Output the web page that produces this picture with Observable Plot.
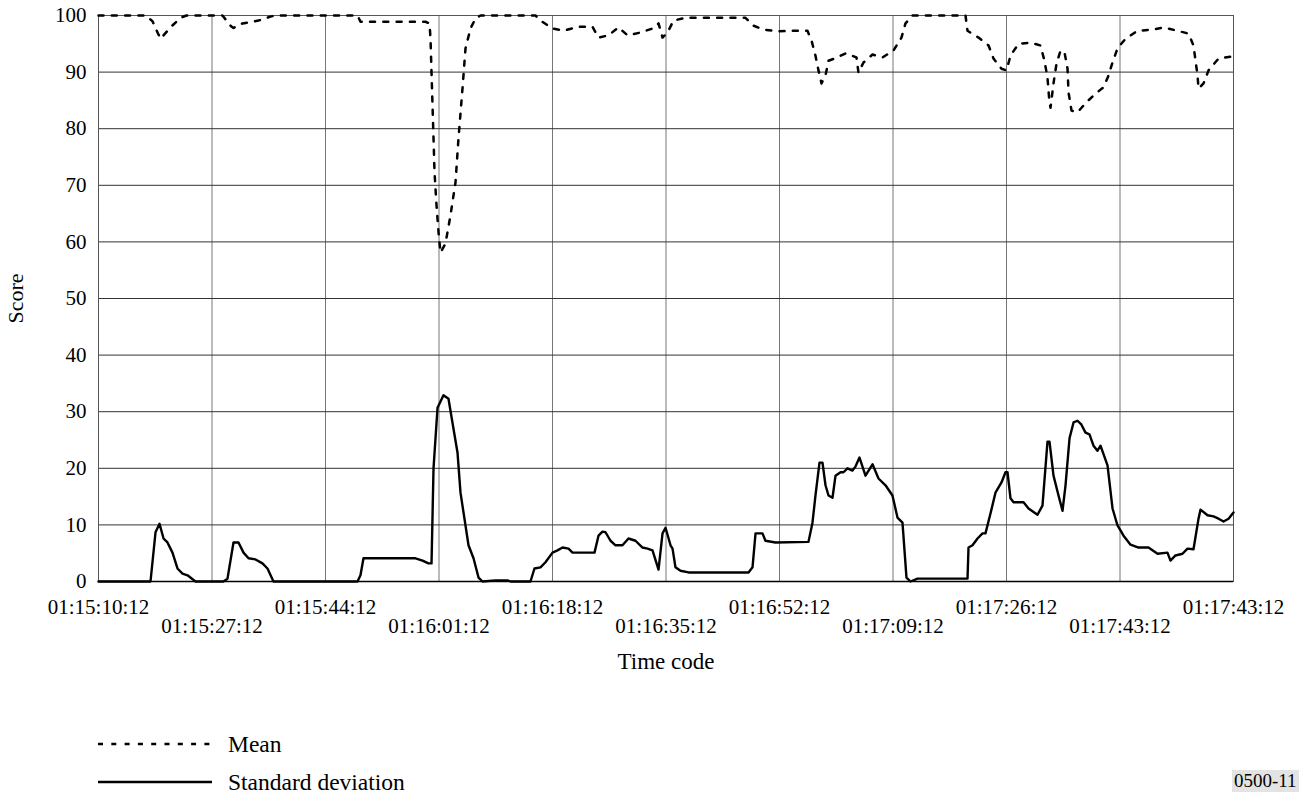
<!DOCTYPE html>
<html>
<head>
<meta charset="utf-8">
<script src="https://cdn.jsdelivr.net/npm/d3@7"></script>
<script src="https://cdn.jsdelivr.net/npm/@observablehq/plot@0.6"></script>
<style>
  body { margin: 0; background: #fff; font-family: "Liberation Serif", "Times New Roman", serif; }
  #wrap { position: relative; width: 1300px; height: 802px; }
  .leg { position: absolute; left: 98px; display: flex; align-items: center; font-size: 23.5px; color: #000; white-space: nowrap; }
  .leg svg { margin-right: 16px; }
  #code { position: absolute; left: 1232px; top: 770px; font-size: 19px; background: #e3e3e3; padding: 0 2px; line-height: 22px; white-space: nowrap; }
</style>
</head>
<body>
<div id="wrap">
  <div id="chart"></div>
  <div class="leg" style="top:731px;height:26px;">
    <svg width="114" height="26"><line x1="0" x2="114" y1="13" y2="13" stroke="#000" stroke-width="2.5" stroke-dasharray="5,8.3"></line></svg>
    <span>Mean</span>
  </div>
  <div class="leg" style="top:769px;height:26px;">
    <svg width="114" height="26"><line x1="0" x2="114" y1="13" y2="13" stroke="#000" stroke-width="2.5"></line></svg>
    <span>Standard deviation</span>
  </div>
  <div id="code">0500-11</div>
</div>
<script>
// seconds since 01:15:10:12
const tickSeconds = [0, 17, 34, 51, 68, 85, 102, 119, 136, 153, 170];
const tickLabels = ["01:15:10:12", "01:15:27:12", "01:15:44:12", "01:16:01:12", "01:16:18:12",
  "01:16:35:12", "01:16:52:12", "01:17:09:12", "01:17:26:12", "01:17:43:12", "01:17:43:12"];
const yTicks = [0, 10, 20, 30, 40, 50, 60, 70, 80, 90, 100];

const meanTime = [0, 7.04, 8.09, 8.84, 9.29, 10.78, 12.28, 13.18, 18.57, 19.77, 20.22, 21.57, 23.96, 25.76, 26.51,
  38.79, 39.24, 48.98, 49.58, 49.73, 49.88, 50.03, 50.18, 50.33, 50.63, 50.93, 51.22, 51.97, 52.72, 53.47, 53.92,
  54.52, 54.97, 55.72, 56.47, 57.22, 65.45, 66.20, 68.00, 69.65, 71.75, 73.99, 74.89, 76.39, 77.89, 79.23, 81.18,
  82.98, 83.88, 84.48, 85.23, 86.12, 87.92, 96.91, 98.11, 99.60, 101.85, 103.95, 106.19, 106.79, 107.39, 107.84,
  108.29, 108.89, 109.34, 110.24, 111.88, 113.53, 113.83, 114.58, 115.93, 117.43, 119.07, 120.27, 120.87, 121.92,
  129.86, 130.16, 131.81, 133.31, 134.05, 135.25, 136.00, 136.60, 137.80, 139.59, 141.09, 141.69, 142.14, 142.44,
  142.59, 143.04, 143.49, 144.09, 144.69, 145.14, 145.29, 145.74, 146.64, 147.83, 149.33, 150.53, 151.28, 151.88,
  152.63, 153.83, 155.62, 157.87, 159.52, 161.61, 163.26, 164.01, 164.61, 164.76, 165.51, 166.26, 167.76, 170.00];
const meanValue = [100, 100, 99.0, 97.0, 95.9, 97.9, 99.6, 100, 100, 98.2, 97.8, 98.6, 99.1, 99.8, 100,
  100, 98.9, 98.9, 98.6, 95.9, 89.9, 84.1, 78.3, 72.3, 66.4, 61.7, 58.1, 59.7, 64.7, 70.5, 78.3,
  87.1, 94.2, 97.7, 99.5, 100, 100, 99.1, 97.7, 97.3, 98.0, 98.0, 96.1, 96.5, 97.9, 96.5, 97.0,
  97.7, 98.6, 96.1, 97.0, 99.1, 99.6, 99.6, 98.2, 97.5, 97.2, 97.3, 97.3, 95.6, 92.9, 90.3,
  88.0, 89.4, 92.0, 92.4, 93.3, 92.6, 89.9, 91.7, 93.1, 92.6, 93.8, 96.1, 98.6, 100,
  100, 97.3, 96.1, 94.7, 92.4, 90.6, 90.3, 92.9, 95.0, 95.2, 94.7, 92.0, 89.0, 84.6,
  83.7, 88.0, 91.5, 93.8, 93.5, 90.6, 86.4, 83.2, 82.9, 84.5, 86.2, 87.3, 89.4, 91.7,
  94.2, 95.9, 97.3, 97.5, 97.9, 97.3, 96.8, 94.7, 89.4, 87.1, 88.0, 90.3, 92.4, 92.8];

const sdTime = [0, 7.79, 8.54, 9.14, 9.74, 10.33, 11.08, 11.83, 12.58, 13.33, 14.53, 18.72, 19.32, 20.22, 20.97,
  21.72, 22.47, 23.52, 24.56, 25.31, 26.21, 38.79, 39.24, 39.69, 47.48, 48.53, 49.43, 49.88, 50.18, 50.78, 51.67,
  52.42, 53.17, 53.77, 54.22, 55.42, 56.17, 56.92, 57.52, 59.46, 61.26, 61.71, 64.70, 65.30, 66.20, 66.95, 68.00,
  68.75, 69.50, 70.40, 71.00, 72.49, 74.29, 74.89, 75.49, 75.94, 76.69, 77.44, 78.48, 79.38, 80.43, 81.48, 82.23,
  82.98, 83.88, 84.48, 84.93, 85.68, 85.98, 86.42, 87.17, 88.37, 97.36, 97.96, 98.41, 99.45, 99.90, 101.40, 106.34,
  106.94, 107.39, 107.99, 108.44, 108.89, 109.34, 109.94, 110.39, 111.14, 111.58, 112.18, 112.93, 113.38, 113.98,
  114.88, 115.93, 116.83, 117.88, 118.92, 119.67, 120.42, 121.02, 121.62, 122.67, 126.41, 130.16, 130.31, 130.91,
  131.66, 132.41, 132.85, 133.60, 134.35, 135.25, 135.85, 136.15, 136.60, 137.05, 138.55, 139.30, 140.64, 141.39,
  142.14, 142.44, 143.04, 143.79, 144.39, 144.84, 145.44, 146.04, 146.64, 147.23, 147.83, 148.43, 149.03, 149.63,
  150.08, 151.13, 151.88, 152.63, 153.53, 154.58, 155.77, 157.27, 158.62, 160.11, 160.56, 161.31, 162.36, 163.11,
  164.01, 164.76, 165.06, 166.11, 167.01, 167.76, 168.51, 169.26, 170.00];
const sdValue = [0, 0, 8.7, 10.2, 7.6, 6.9, 5.1, 2.3, 1.4, 1.1, 0, 0, 0.5, 6.9, 6.9,
  5.1, 4.1, 3.9, 3.2, 2.3, 0, 0, 1.1, 4.1, 4.1, 3.7, 3.2, 3.2, 20.0, 30.7, 32.9,
  32.3, 27.0, 22.8, 15.7, 6.4, 4.1, 0.7, 0, 0.2, 0.2, 0, 0, 2.3, 2.5, 3.4, 5.1,
  5.5, 6.0, 5.8, 5.1, 5.1, 5.1, 8.1, 8.8, 8.7, 7.2, 6.4, 6.4, 7.6, 7.2, 6.0, 5.8,
  5.5, 2.1, 8.5, 9.5, 6.4, 5.8, 2.5, 1.9, 1.6, 1.6, 2.5, 8.5, 8.5, 7.2, 6.9, 7.0,
  10.4, 15.2, 21.0, 21.0, 17.0, 15.2, 14.8, 18.7, 19.3, 19.3, 20.0, 19.6, 20.3, 21.9,
  18.7, 20.7, 18.2, 17.0, 15.2, 11.3, 10.4, 0.7, 0, 0.5, 0.5, 0.5, 6.0, 6.4,
  7.6, 8.5, 8.5, 12.0, 15.7, 17.5, 19.3, 19.3, 14.7, 14.0, 14.0, 12.9, 11.8, 13.4,
  24.7, 24.7, 18.7, 15.2, 12.5, 17.0, 25.3, 28.1, 28.4, 27.7, 26.3, 26.0, 24.0, 23.1,
  24.0, 20.5, 12.9, 9.9, 8.1, 6.5, 6.0, 6.0, 4.9, 5.1, 3.7, 4.6, 4.9, 5.8,
  5.7, 11.1, 12.7, 11.7, 11.5, 11.1, 10.6, 11.1, 12.2];

const meanData = meanTime.map((t, i) => ({t, v: meanValue[i]}));
const sdData = sdTime.map((t, i) => ({t, v: sdValue[i]}));
const labelOf = d => tickLabels[tickSeconds.indexOf(d)];

const chart = Plot.plot({
  width: 1300,
  height: 680,
  marginTop: 15,
  marginLeft: 98,
  marginRight: 67,
  marginBottom: 99,
  style: {fontFamily: "'Liberation Serif', 'Times New Roman', serif", fontSize: "21px", color: "#000", background: "#fff"},
  x: {domain: [0, 170]},
  y: {domain: [0, 100]},
  marks: [
    Plot.gridX(tickSeconds, {stroke: "#777", strokeOpacity: 1, strokeWidth: 1}),
    Plot.gridY(yTicks, {stroke: "#333", strokeOpacity: 1, strokeWidth: 1}),
    Plot.frame({stroke: "#555", strokeWidth: 1}),
    Plot.ruleY([0], {stroke: "#000", strokeWidth: 1.5}),
    Plot.line(meanData, {x: "t", y: "v", stroke: "#000", strokeWidth: 2.5, strokeDasharray: "5,8.3", curve: "linear"}),
    Plot.line(sdData, {x: "t", y: "v", stroke: "#000", strokeWidth: 2.4, curve: "linear"}),
    Plot.axisY(yTicks, {tickSize: 0, tickPadding: 12, fontSize: 21, label: null}),
    Plot.axisX(tickSeconds.filter((d, i) => i % 2 === 0), {tickSize: 0, tickPadding: 18, fontSize: 21, tickFormat: labelOf, label: null}),
    Plot.axisX(tickSeconds.filter((d, i) => i % 2 === 1), {tickSize: 0, tickPadding: 37, fontSize: 21, tickFormat: labelOf, label: null}),
    Plot.text(["Score"], {frameAnchor: "left", textAnchor: "middle", rotate: -90, dx: -83, fontSize: 22}),
    Plot.text(["Time code"], {frameAnchor: "bottom", dy: 87, fontSize: 23})
  ]
});
document.getElementById("chart").appendChild(chart);
</script>
</body>
</html>
